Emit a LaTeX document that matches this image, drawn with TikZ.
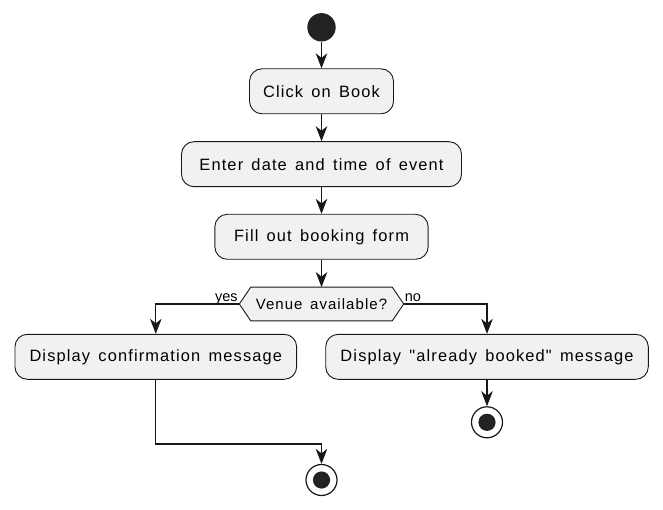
\documentclass[tikz,border=0pt]{standalone}
\usepackage{fontspec}
\setmainfont{Liberation Sans}
\newfontfamily\boxfont[LetterSpace=7,WordSpace=1.45]{Liberation Sans}
\usetikzlibrary{arrows.meta,calc}
\definecolor{boxfill}{HTML}{F1F1F1}
\definecolor{boxline}{HTML}{181818}
\definecolor{dotcol}{HTML}{222222}
\begin{document}
\begin{tikzpicture}[x=1pt,y=-1pt,
  actbox/.style={draw=boxline,line width=0.9pt,fill=boxfill,rounded corners=12.5pt,
    minimum height=45pt,inner sep=0pt,font=\boxfont\fontsize{16.4}{19}\selectfont},
  arr/.style={draw=boxline,line width=1.2pt,-{Stealth[length=15pt,width=11.5pt,inset=4.5pt]}},
  plain/.style={draw=boxline,line width=1.2pt},
  lbl/.style={inner sep=0pt,font=\fontsize{14.5}{16}\selectfont},
  endc/.style={circle,draw=boxline,line width=1.2pt,fill=white,minimum size=31pt,inner sep=0pt}]
\useasboundingbox[fill=white] (0,0) rectangle (663,510);
\node[circle,fill=dotcol,minimum size=28.4pt,inner sep=0pt] (start) at (321.5,27.3) {};
\node[actbox,minimum width=144pt] (click) at (321.5,91.3) {Click on Book};
\node[actbox,minimum width=280pt] (enter) at (321.5,164.2) {Enter date and time of event};
\node[actbox,minimum width=213.3pt] (fill) at (321.5,236.8) {Fill out booking form};
\node[inner sep=0pt,minimum width=164pt,minimum height=33.4pt] (dec) at (321.5,304)
  {\boxfont\fontsize{15}{17}\selectfont Venue available?};
\draw[draw=boxline,line width=0.9pt,fill=boxfill]
  (dec.west) -- ($(dec.north west)+(11.5,0)$) -- ($(dec.north east)+(-11.5,0)$)
  -- (dec.east) -- ($(dec.south east)+(-11.5,0)$) -- ($(dec.south west)+(11.5,0)$) -- cycle;
\node[inner sep=0pt] at (dec) {\boxfont\fontsize{15}{17}\selectfont Venue available?};
\node[actbox,minimum width=281.7pt] (left) at (155.8,356.8) {Display confirmation message};
\node[actbox,minimum width=322.6pt] (right) at (487,356.8) {Display "already booked" message};
\node[endc] (end2) at (487,422.3) {};
\fill[dotcol] (end2) circle (8.6);
\node[endc] (end1) at (321.5,480) {};
\fill[dotcol] (end1) circle (8.6);
\coordinate (j) at (321.5,444);
\node[lbl,anchor=base east] (yes) at ($(dec.west)+(-1.5,-2.3)$) {yes};
\node[lbl,anchor=base west] (no) at ($(dec.east)+(1,-2.3)$) {no};
\draw[arr] (start) -- (click);
\draw[arr] (click) -- (enter);
\draw[arr] (enter) -- (fill);
\draw[arr] (fill) -- (dec.north);
\draw[arr] (dec.west) -| (left.north);
\draw[arr] (dec.east) -| (right.north);
\draw[arr] (right) -- (end2);
\draw[plain] (left.south) |- (j);
\draw[arr] (j) -- (end1);
\end{tikzpicture}
\end{document}
